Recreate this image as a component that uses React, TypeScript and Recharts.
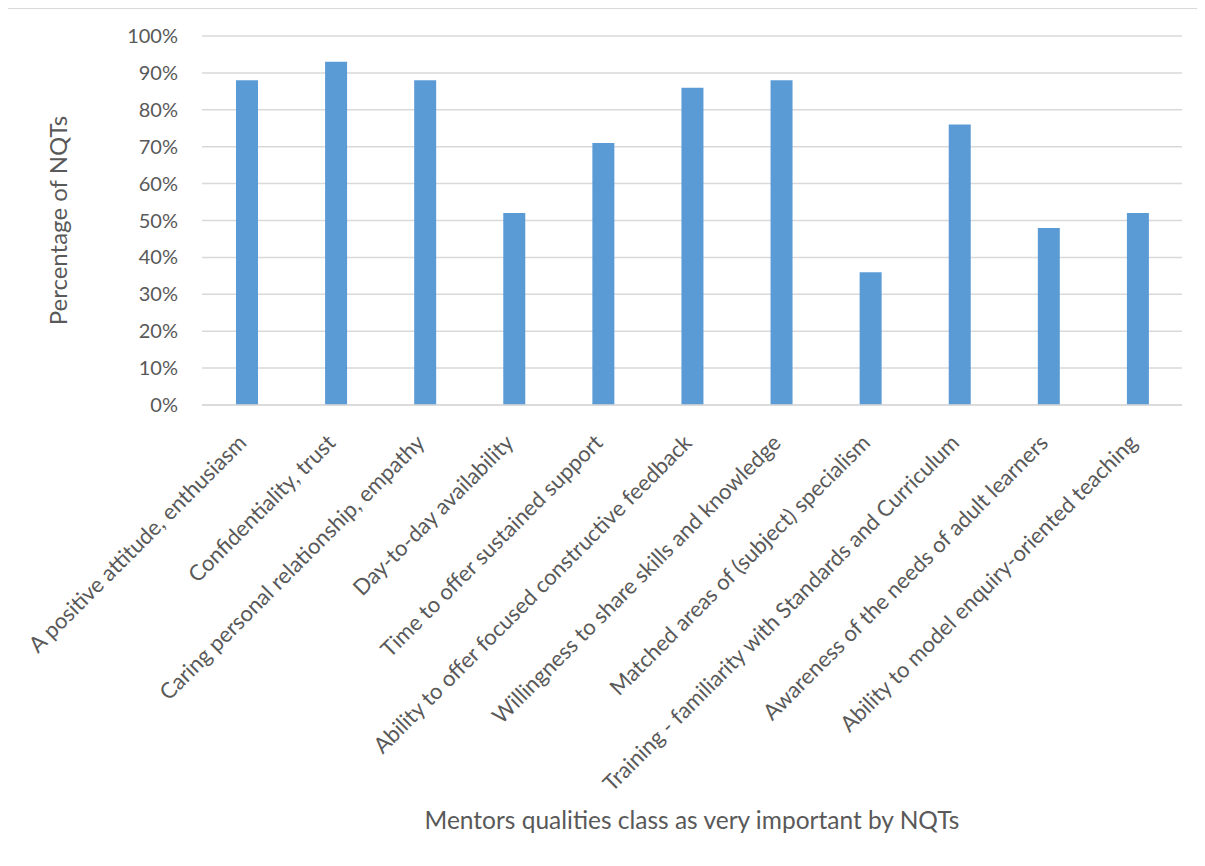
import React from 'react';
import { BarChart, Bar, XAxis, YAxis, CartesianGrid } from 'recharts';

const categories: string[] = [
  'A positive attitude, enthusiasm',
  'Confidentiality, trust',
  'Caring personal relationship, empathy',
  'Day-to-day availability',
  'Time to offer sustained support',
  'Ability to offer focused constructive feedback',
  'Willingness to share skills and knowledge',
  'Matched areas of (subject) specialism',
  'Training - familiarity with Standards and Curriculum',
  'Awareness of the needs of adult learners',
  'Ability to model enquiry-oriented teaching',
];

const percentages: number[] = [88, 93, 88, 52, 71, 86, 88, 36, 76, 48, 52];

const yTicks: number[] = [0, 10, 20, 30, 40, 50, 60, 70, 80, 90, 100];

const data = categories.map((name, i) => ({ name, value: percentages[i] }));

const FONT = 'Lato, "Open Sans", sans-serif';
const TEXT = '#595959';

// Category labels, rotated 45° and anchored at their end just under each bar
const XTick = (props: any) => {
  const { x, y, payload } = props;
  return (
    <g transform={`translate(${x - 3},${y + 27})`}>
      <text
        transform="rotate(-45)"
        textAnchor="end"
        x={0}
        y={0}
        dy={6}
        fill={TEXT}
        fontSize={22}
        fontFamily={FONT}
      >
        {payload.value}
      </text>
    </g>
  );
};

const YTick = (props: any) => {
  const { y, payload } = props;
  return (
    <text
      x={178}
      y={y}
      dy={7}
      textAnchor="end"
      fill={TEXT}
      fontSize={20}
      fontFamily={FONT}
    >
      {`${payload.value}%`}
    </text>
  );
};

export default function App() {
  return (
    <div
      style={{
        position: 'relative',
        width: 1205,
        height: 866,
        margin: -8,
        overflow: 'hidden',
        background: '#ffffff',
      }}
    >
      <div
        style={{
          position: 'absolute',
          left: 6,
          top: 7,
          width: 1300,
          height: 1000,
          border: '2px solid #d9d9d9',
        }}
      />
      <div style={{ position: 'absolute', left: 0, top: 0 }}>
        <BarChart
          width={1205}
          height={866}
          data={data}
          margin={{ top: 36, right: 23, bottom: 0, left: 0 }}
          barCategoryGap={0}
        >
          <CartesianGrid vertical={false} stroke="#d9d9d9" strokeWidth={1.5} />
          <XAxis
            dataKey="name"
            height={461}
            axisLine={{ stroke: '#d9d9d9', strokeWidth: 1.5 }}
            tickLine={false}
            interval={0}
            tick={<XTick />}
            label={{
              value: 'Mentors qualities class as very important by NQTs',
              position: 'insideBottom',
              offset: 37,
              fill: TEXT,
              fontSize: 24.5,
              fontFamily: FONT,
            }}
          />
          <YAxis
            width={202}
            domain={[0, 100]}
            ticks={yTicks}
            axisLine={false}
            tickLine={false}
            tick={<YTick />}
            label={{
              value: 'Percentage of NQTs',
              angle: -90,
              position: 'center',
              dx: -43,
              fill: TEXT,
              fontSize: 24,
              fontFamily: FONT,
            }}
          />
          <Bar dataKey="value" fill="#5b9bd5" barSize={22} isAnimationActive={false} />
        </BarChart>
      </div>
    </div>
  );
}
